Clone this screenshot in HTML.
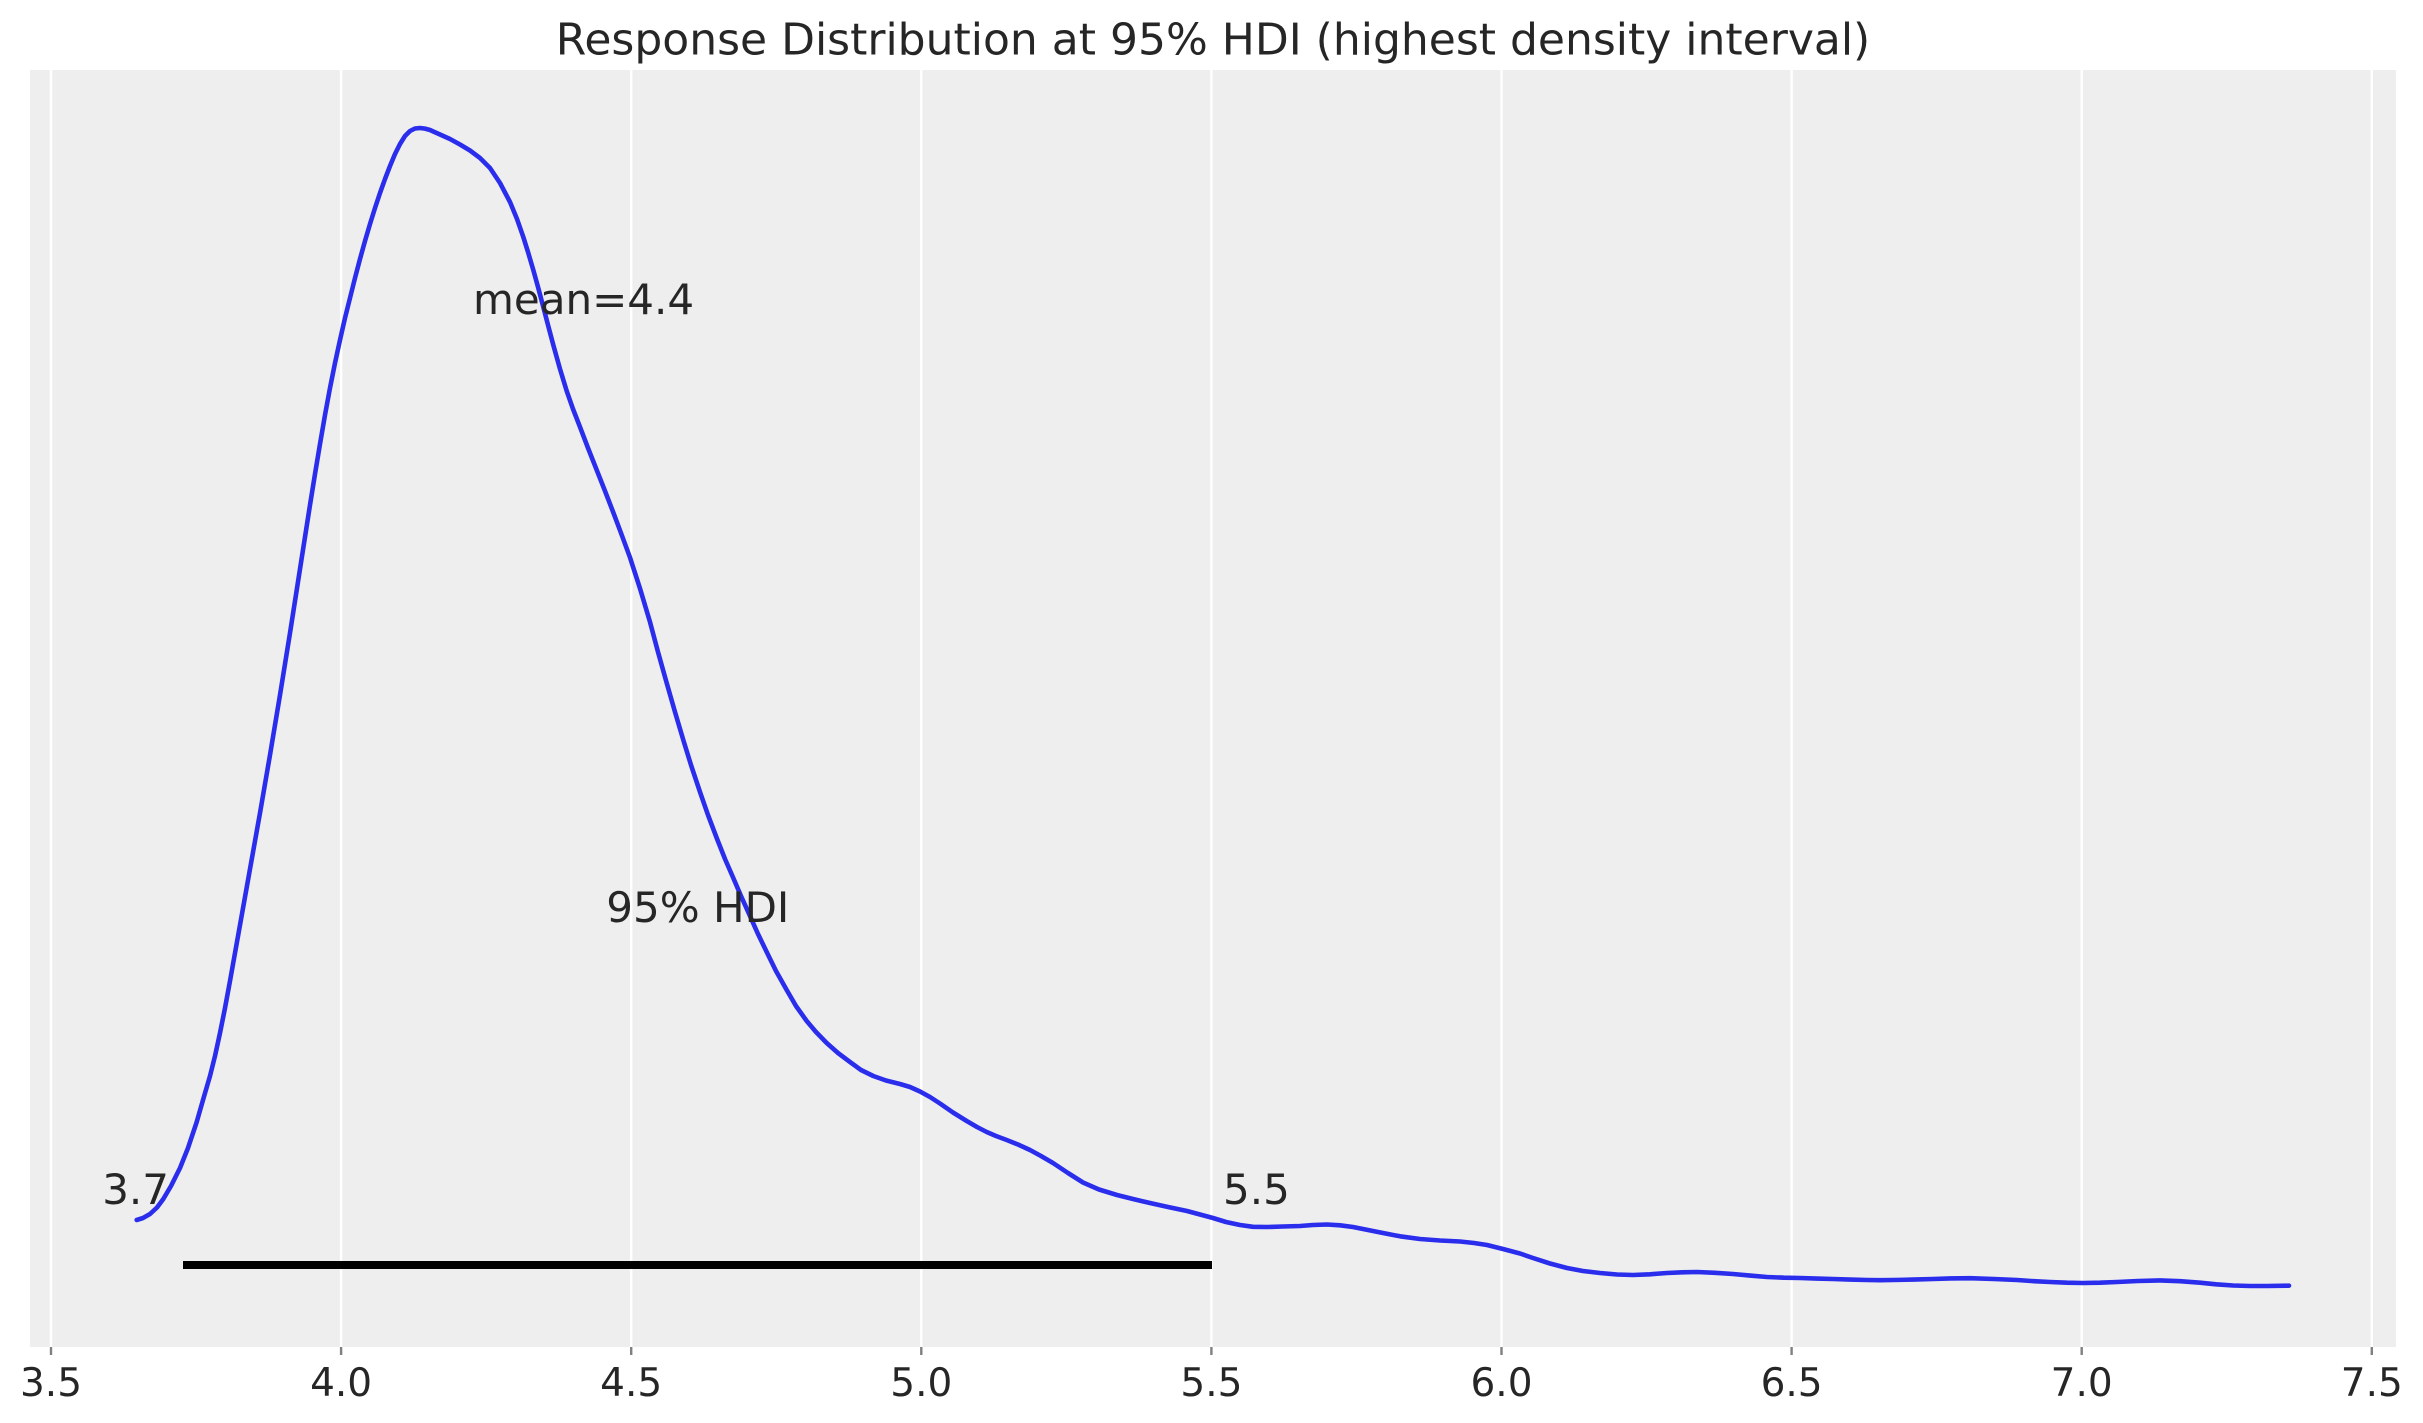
<!DOCTYPE html>
<html>
<head>
<meta charset="utf-8">
<style>
  html, body { margin: 0; padding: 0; background: #ffffff; }
  body { width: 2423px; height: 1423px; overflow: hidden; }
  svg { display: block; }
  text { font-family: "DejaVu Sans", "Liberation Sans", sans-serif; fill: #262626; }
</style>
</head>
<body>
<svg width="2423" height="1423" viewBox="0 0 2423 1423" xmlns="http://www.w3.org/2000/svg">
  <rect x="0" y="0" width="2423" height="1423" fill="#ffffff"/>
  <!-- axes background -->
  <rect x="30" y="70" width="2366" height="1277" fill="#eeeeee"/>
  <!-- vertical gridlines -->
  <g stroke="#ffffff" stroke-width="2.4">
    <line x1="51" y1="70" x2="51" y2="1347"/>
    <line x1="341.1" y1="70" x2="341.1" y2="1347"/>
    <line x1="631.2" y1="70" x2="631.2" y2="1347"/>
    <line x1="921.3" y1="70" x2="921.3" y2="1347"/>
    <line x1="1211.4" y1="70" x2="1211.4" y2="1347"/>
    <line x1="1501.5" y1="70" x2="1501.5" y2="1347"/>
    <line x1="1791.6" y1="70" x2="1791.6" y2="1347"/>
    <line x1="2081.7" y1="70" x2="2081.7" y2="1347"/>
    <line x1="2371.8" y1="70" x2="2371.8" y2="1347"/>
  </g>
  <!-- tick marks -->
  <g stroke="#808080" stroke-width="2.4">
    <line x1="51" y1="1347" x2="51" y2="1355"/>
    <line x1="341.1" y1="1347" x2="341.1" y2="1355"/>
    <line x1="631.2" y1="1347" x2="631.2" y2="1355"/>
    <line x1="921.3" y1="1347" x2="921.3" y2="1355"/>
    <line x1="1211.4" y1="1347" x2="1211.4" y2="1355"/>
    <line x1="1501.5" y1="1347" x2="1501.5" y2="1355"/>
    <line x1="1791.6" y1="1347" x2="1791.6" y2="1355"/>
    <line x1="2081.7" y1="1347" x2="2081.7" y2="1355"/>
    <line x1="2371.8" y1="1347" x2="2371.8" y2="1355"/>
  </g>
  <!-- tick labels -->
  <g font-size="39" text-anchor="middle">
    <text x="51" y="1396">3.5</text>
    <text x="341.1" y="1396">4.0</text>
    <text x="631.2" y="1396">4.5</text>
    <text x="921.3" y="1396">5.0</text>
    <text x="1211.4" y="1396">5.5</text>
    <text x="1501.5" y="1396">6.0</text>
    <text x="1791.6" y="1396">6.5</text>
    <text x="2081.7" y="1396">7.0</text>
    <text x="2371.8" y="1396">7.5</text>
  </g>
  <!-- HDI bar -->
  <rect x="183" y="1261" width="1029" height="8" fill="#000000"/>
  <!-- KDE curve -->
  <polyline fill="none" stroke="#2a2eec" stroke-width="4.6" stroke-linejoin="round" stroke-linecap="round"
    points="136.7,1220 143,1218 150,1214 157,1207.5 163.3,1199 171,1186 180,1168 188,1148 196.7,1122 203,1100 210,1076 215,1056 220,1033 225,1008 230,981 235,953 240,925 245,897 250,869 255,841 260,813 265,784 270,755 275,725 280,695 285,664 290,633 295,601 300,569 305,537 310,505 315,474 320,444 325,415 330,388 335,363 340,340 345,318 350,298 355,278 360,259 365,241 370,224 375,208 380,193 385,179 390,166 395,154 400,144 405,136 410,131 415,128.5 420,128 425,128.6 430,130 433.3,131.5 440,134.5 450,139 460,144.5 470,150.5 480,158 490,168 500,183 510,202 517,219 523.3,237 528,252 533.3,270 538,287 543.3,307 548,325 553.3,345 560,369 566.7,391 573,409 580,427 588,448 596.7,470 605,491 613.3,512.5 621,533 630,557.5 640,588.5 650,622 658,652 666.7,683 675,712 683.3,740 691,765 700,792 708,815 716.7,838 725,859 733.3,878 741,896 750,916 758,934 766.7,952 776,971 786.7,990 796,1006 806.7,1021 816,1032 826.7,1043 838,1053 850,1062 861,1070 873.3,1076 886,1080.5 900,1084 910,1087 920,1091.5 930,1097 940,1103.5 953,1112.5 966.7,1121 977,1127 986.7,1132 996,1136 1006.7,1140 1018,1144.5 1030,1150 1041,1156 1053,1163 1068,1173 1083,1182.5 1099,1189.5 1117,1195 1133,1199 1150,1203 1168,1207 1187,1211 1200,1214.5 1213,1218 1226,1222 1240,1225 1253,1226.8 1267,1227 1283,1226.5 1300,1226 1313,1225 1327,1224.5 1340,1225.3 1353,1227 1368,1230 1383,1233 1400,1236.3 1420,1239 1440,1240.5 1460,1241.5 1474,1243 1487,1245 1503,1249 1520,1253.5 1533,1258 1550,1263.5 1567,1268 1583,1271 1600,1273 1617,1274.5 1633,1275 1650,1274.3 1667,1273 1682,1272.3 1697,1272 1715,1272.8 1733,1274 1750,1275.6 1767,1277 1784,1277.7 1800,1278 1817,1278.6 1833,1279 1850,1279.6 1867,1280 1880,1280.2 1893,1280 1913,1279.6 1933,1279 1950,1278.4 1970,1278.2 1994,1279 2017,1280 2034,1281.2 2050,1282 2067,1282.7 2083,1283 2100,1282.7 2117,1282 2138,1281 2160,1280.4 2180,1281.2 2200,1282.7 2216,1284.3 2233,1285.5 2250,1286 2267,1286 2289,1285.7"/>
  <!-- annotations -->
  <text x="473" y="314" font-size="42">mean=4.4</text>
  <text x="697.8" y="922" font-size="42" text-anchor="middle">95% HDI</text>
  <text x="169" y="1204" font-size="42" text-anchor="end">3.7</text>
  <text x="1223" y="1204" font-size="42">5.5</text>
  <!-- title -->
  <text x="1213" y="54.5" font-size="44" text-anchor="middle">Response Distribution at 95% HDI (highest density interval)</text>
</svg>
</body>
</html>
